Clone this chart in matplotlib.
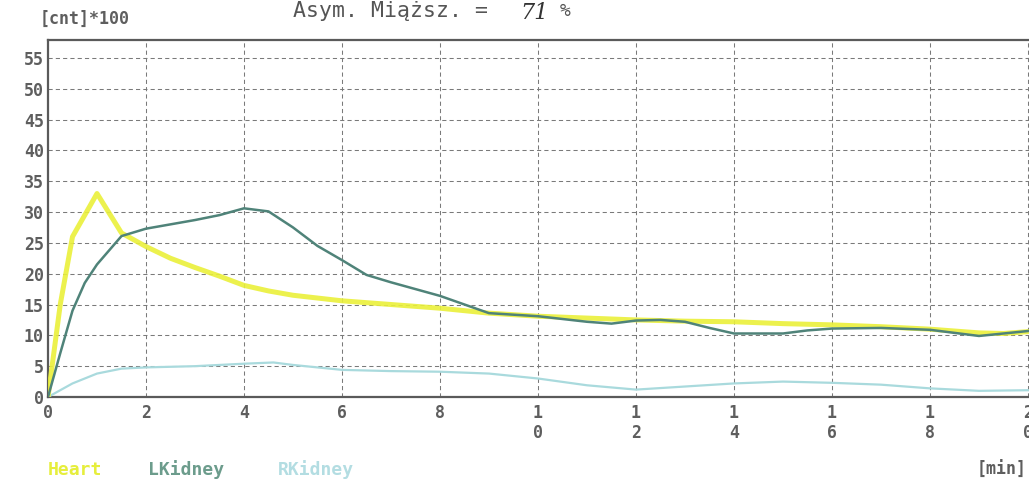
import matplotlib
matplotlib.use("Agg")
import matplotlib.pyplot as plt

# Renogram time-activity curves (counts x100 vs. minutes)
t_heart = [0, 0.25, 0.5, 0.75, 1.0, 1.5, 2.0, 2.5, 3.0, 3.5, 4.0, 4.5, 5.0,
           6.0, 7.0, 8.0, 9.0, 10.0, 11.0, 12.0, 13.0, 14.0, 15.0, 16.0,
           17.0, 18.0, 19.0, 19.5, 20.0]
heart = [0, 15, 26, 29.5, 33, 26.6, 24.4, 22.5, 21.0, 19.6, 18.1, 17.2, 16.5,
         15.6, 15.0, 14.4, 13.6, 13.1, 12.8, 12.5, 12.3, 12.2, 11.9, 11.7,
         11.4, 11.0, 10.4, 10.3, 10.6]

t_lkid = [0, 0.25, 0.5, 0.75, 1.0, 1.5, 2.0, 2.5, 3.0, 3.5, 4.0, 4.5, 5.0,
          5.5, 6.0, 6.5, 7.0, 8.0, 8.5, 9.0, 10.0, 11.0, 11.5, 12.0, 12.5,
          13.0, 13.5, 14.0, 15.0, 15.5, 16.0, 17.0, 18.0, 19.0, 20.0]
lkidney = [0, 7.1, 14.0, 18.5, 21.5, 26.1, 27.3, 28.0, 28.7, 29.5, 30.6,
           30.1, 27.5, 24.5, 22.2, 19.8, 18.6, 16.4, 15.0, 13.6, 13.1, 12.2,
           11.9, 12.4, 12.5, 12.2, 11.2, 10.3, 10.3, 10.8, 11.1, 11.2, 10.9,
           9.9, 10.7]

t_rkid = [0, 0.5, 1.0, 1.5, 2.0, 3.0, 4.0, 4.6, 5.0, 6.0, 7.0, 8.0, 9.0,
          10.0, 11.0, 12.0, 13.0, 14.0, 15.0, 16.0, 17.0, 18.0, 19.0, 20.0]
rkidney = [0, 2.2, 3.8, 4.6, 4.8, 5.0, 5.4, 5.6, 5.2, 4.4, 4.2, 4.1, 3.8,
           3.0, 1.9, 1.2, 1.7, 2.2, 2.5, 2.3, 2.0, 1.4, 1.0, 1.1]

x_ticks = [0, 2, 4, 6, 8, 10, 12, 14, 16, 18, 20]
y_ticks = [0, 5, 10, 15, 20, 25, 30, 35, 40, 45, 50, 55]

series_names = ["Heart", "LKidney", "RKidney"]
series_colors = ["#eaf03a", "#4f8379", "#a9dadd"]
label_colors = ["#e6ee3c", "#6c9c8c", "#b3dde2"]

W, H = 1029, 488
fig = plt.figure(figsize=(W / 100, H / 100), dpi=100)
fig.patch.set_facecolor("white")

x0, y_bot, y_top = 48, 397, 40
px_per_min = 49.0
xmax = 20.3
ax = fig.add_axes([x0 / W, (H - y_bot) / H,
                   xmax * px_per_min / W, (y_bot - y_top) / H])
ax.set_xlim(0, xmax)
ax.set_ylim(0, 57.9)
ax.set_facecolor("white")

grid_kw = dict(color="#7a7a7a", linewidth=0.75, linestyle=(0, (4, 3)), zorder=1)
for yv in y_ticks[1:]:
    ax.axhline(yv, **grid_kw)
for xv in x_ticks[1:]:
    ax.axvline(xv, **grid_kw)

ax.plot(t_rkid, rkidney, color=series_colors[2], lw=1.6, zorder=3)
ax.plot(t_heart, heart, color=series_colors[0], lw=3.6, alpha=0.9, zorder=4,
        solid_joinstyle="round")
ax.plot(t_lkid, lkidney, color=series_colors[1], lw=1.8, zorder=5)

for side in ["left", "bottom", "top", "right"]:
    ax.spines[side].set_color("#5a5a5a")
    ax.spines[side].set_linewidth(1.6)

mono = dict(family="DejaVu Sans Mono", weight="bold", color="#5e5e5e")
ax.set_xticks(x_ticks)
ax.set_yticks(y_ticks)
ax.set_yticklabels([str(v) for v in y_ticks], fontsize=12, **mono)
ax.set_xticklabels(["\n".join(str(v)) for v in x_ticks], fontsize=12,
                   linespacing=1.15, **mono)
ax.tick_params(axis="both", length=0)
ax.tick_params(axis="y", pad=3)
ax.tick_params(axis="x", pad=5)

# header texts
fig.text(40 / W, 1 - 19 / H, "[cnt]*100", ha="left", va="center",
         fontsize=12, **mono)
fig.text(293 / W, 1 - 11 / H, "Asym. Miąższ. =", ha="left", va="center",
         fontsize=15.5, family="DejaVu Sans Mono", color="#555555")
fig.text(520 / W, 1 - 13 / H, "71", ha="left", va="center", fontsize=16,
         family="DejaVu Serif", style="italic", color="#333333")
fig.text(560 / W, 1 - 11 / H, "%", ha="left", va="center", fontsize=13,
         family="DejaVu Sans Mono", color="#555555")

# legend row
for name, col, xpos in zip(series_names, label_colors, [48, 148, 278]):
    fig.text(xpos / W, 1 - 470 / H, name, ha="left", va="center",
             fontsize=13, family="DejaVu Sans Mono", weight="bold", color=col)

fig.text(1027 / W, 1 - 470 / H, "[min]", ha="right", va="center",
         fontsize=12, **mono)

fig.savefig("out.png", dpi=100, facecolor="white")
